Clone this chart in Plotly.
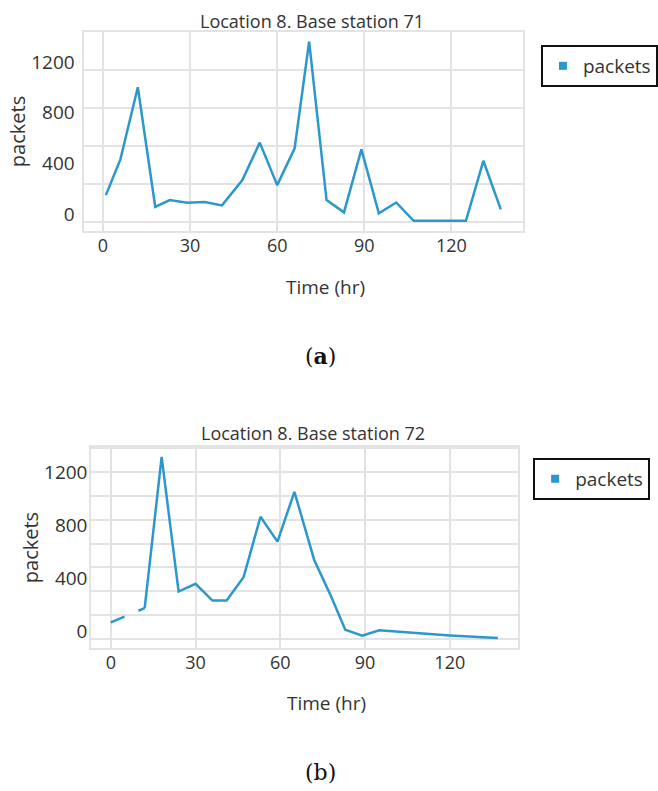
import plotly.graph_objects as go

# ---- data: Location 8, Base station 71 ----
time_a = [1, 6, 12, 18, 23, 29, 35, 41, 48, 54, 60, 66, 71, 77, 83, 89, 95, 101, 107, 113, 119, 125, 131, 137]
packets_a = [213, 495, 1064, 121, 174, 153, 158, 132, 332, 627, 292, 582, 1424, 174, 77, 574, 69, 155, 10, 10, 10, 10, 484, 100]

# ---- data: Location 8, Base station 72 ----
time_b_gap = [0, 12]
packets_b_gap = [125, 233]
time_b = [12, 18, 24, 30, 36, 41, 47, 53, 59, 65, 72, 78, 83, 89, 95, 120, 137]
packets_b = [233, 1373, 358, 416, 290, 290, 466, 922, 734, 1110, 596, 320, 70, 25, 65, 27, 7]

x_ticks = [0, 30, 60, 90, 120]
y_ticks = [0, 400, 800, 1200]
series_name = "packets"
title_a = "Location 8. Base station 71"
title_b = "Location 8. Base station 72"

BLUE = "#2b98cc"
GRID = "#e3e3e3"
TXT = "#333333"
FONT = "Open Sans"
W, H = 658, 791

fig = go.Figure()
fig.add_trace(go.Scatter(x=time_a, y=packets_a, mode="lines", line=dict(color=BLUE, width=2.5),
                         showlegend=False, xaxis="x", yaxis="y"))
fig.add_trace(go.Scatter(x=[None], y=[None], mode="markers", name=series_name,
                         marker=dict(symbol="square", size=8, color=BLUE),
                         xaxis="x", yaxis="y", legend="legend"))
fig.add_trace(go.Scatter(x=time_b_gap, y=packets_b_gap, mode="lines",
                         line=dict(color=BLUE, width=2.5, dash="longdash"),
                         showlegend=False, xaxis="x2", yaxis="y2"))
fig.add_trace(go.Scatter(x=time_b, y=packets_b, mode="lines", line=dict(color=BLUE, width=2.5),
                         showlegend=False, xaxis="x2", yaxis="y2"))
fig.add_trace(go.Scatter(x=[None], y=[None], mode="markers", name=series_name,
                         marker=dict(symbol="square", size=8, color=BLUE),
                         xaxis="x2", yaxis="y2", legend="legend2"))

def xa(domain, rng, anchor):
    return dict(domain=domain, range=rng, anchor=anchor, tickvals=x_ticks, showgrid=True,
                gridcolor=GRID, gridwidth=2, showline=True, mirror=True, linecolor=GRID,
                linewidth=2, zeroline=False, ticks="", tickfont=dict(size=18, color=TXT, family=FONT),
                ticklabelstandoff=-3)

def ya(domain, rng, anchor, grid_step, standoff, title_standoff):
    return dict(domain=domain, range=rng, anchor=anchor, tickvals=y_ticks, showgrid=False,
                minor=dict(dtick=grid_step, tick0=0, showgrid=True, gridcolor=GRID, gridwidth=2, ticks=""),
                showline=True, mirror=True, linecolor=GRID, linewidth=2, zeroline=False, ticks="",
                tickfont=dict(size=19, color=TXT, family=FONT), ticklabelshift=-8,
                ticklabelstandoff=standoff,
                title=dict(text="packets", font=dict(size=20, color=TXT, family=FONT), standoff=title_standoff))

fig.update_layout(
    width=W, height=H, margin=dict(l=0, r=0, t=0, b=0),
    paper_bgcolor="white", plot_bgcolor="white",
    font=dict(family=FONT, color=TXT),
    xaxis=xa([86 / W, 539 / W], [-6.7, 144.8], "y"),
    yaxis=ya([1 - 231 / H, 1 - 32 / H], [-70, 1500], "x", 300, 3, 0),
    xaxis2=xa([94 / W, 533 / W], [-6.9, 144], "y2"),
    yaxis2=ya([1 - 648 / H, 1 - 447 / H], [-68, 1448], "x2", 180, -2, 0),
    legend=dict(x=557 / W, y=1 - 45 / H, xanchor="left", yanchor="top", bordercolor="#111111",
                borderwidth=2, bgcolor="white", itemwidth=30,
                font=dict(size=19, color=TXT, family=FONT)),
    legend2=dict(x=549 / W, y=1 - 458 / H, xanchor="left", yanchor="top", bordercolor="#111111",
                 borderwidth=2, bgcolor="white", itemwidth=30,
                 font=dict(size=19, color=TXT, family=FONT)),
)

def ann(text, x, y, size, family=FONT, color=TXT):
    fig.add_annotation(text=text, x=x / W, y=1 - y / H, xref="paper", yref="paper",
                       xanchor="center", yanchor="middle", showarrow=False,
                       font=dict(size=size, family=family, color=color))

ann(title_a, 321, 21, 18)
ann(title_b, 322, 433, 18)
ann("Time (hr)", 335, 287, 19)
ann("Time (hr)", 336, 703, 19)
ann("(<b>a</b>)", 330, 356, 22, family="DejaVu Serif", color="#111111")
ann("(b)", 330, 772, 22, family="DejaVu Serif", color="#111111")

fig.write_html("out.html")
